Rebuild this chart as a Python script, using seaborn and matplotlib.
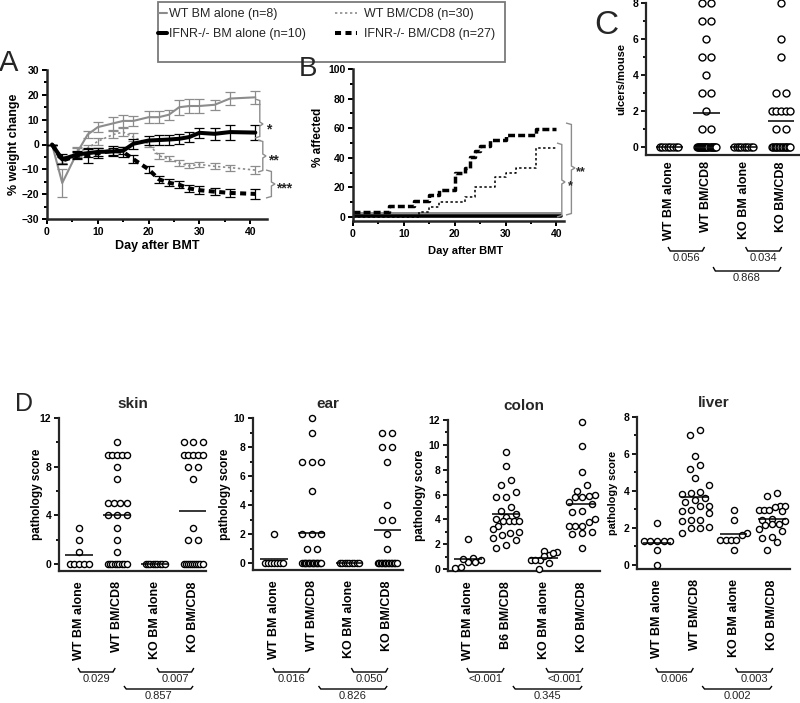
import warnings
warnings.filterwarnings("ignore")
import numpy as np
import pandas as pd
import matplotlib
matplotlib.use("Agg")
import matplotlib.pyplot as plt
import matplotlib.transforms as mtrans
from matplotlib.path import Path
from matplotlib.patches import PathPatch, Rectangle
from matplotlib.ticker import MultipleLocator
import seaborn as sns

# ---------------- data ----------------
# Panel A: % weight change (mean and SEM per day)
days = [1, 3, 6, 8, 10, 13, 15, 17, 20, 22, 24, 26, 28, 30, 33, 36, 41]
wt_bm_mean = [0, -15.5, -3, 4, 7, 8.5, 9.5, 9.5, 11, 11, 12, 15, 15.5, 15.5, 16, 18.5, 19]
wt_bm_sem = [0, 5.5, 2, 1.5, 2, 2.5, 2.5, 2, 2.5, 2.5, 2, 3, 3, 3, 2, 2.5, 2.5]
ko_bm_mean = [0, -6, -4, -3.5, -3, -2.8, -2.5, 0.3, 1.6, 1.8, 2, 2.3, 3, 4.7, 4.3, 5, 4.8]
ko_bm_sem = [0, 2, 1.5, 1.5, 1.5, 1.5, 1.5, 2, 2, 2, 2, 2, 2, 2, 2.5, 3, 3]
wt_cd8_mean = [0, -6, -3, -1.5, 1.3, 4, 5, 3, 0.3, -4.5, -5.8, -7.5, -8.6, -8, -8.8, -9.3, -10.3]
wt_cd8_sem = [0, 1.5, 1.5, 1.5, 1.5, 1.5, 1.5, 1.5, 1.5, 1.2, 1, 1.2, 1, 1, 1.2, 1.2, 1.5]
ko_cd8_mean = [0, -6.5, -4.5, -4.5, -3.5, -2.5, -3, -5.9, -10, -14, -15.4, -16.2, -17.7, -18.4, -19, -19.5, -19.9]
ko_cd8_sem = [0, 1.5, 1.5, 3, 2, 2, 2, 1.5, 1.5, 1.5, 1.5, 1.5, 1.5, 1.5, 1.5, 1.5, 2]
labels_A = ["WT BM alone (n=8)", "IFNR-/- BM alone (n=10)",
            "WT BM/CD8 (n=30)", "IFNR-/- BM/CD8 (n=27)"]

# Panel B: % affected (step curves)
b_wt_bm_day = [0, 41]
b_wt_bm_pct = [2.7, 2.7]
b_ko_bm_day = [0, 41]
b_ko_bm_pct = [0.8, 0.8]
b_wt_cd8_day = [0, 13, 15, 17, 22, 24, 28, 30, 32, 36, 40]
b_wt_cd8_pct = [0, 3.3, 6.7, 10, 13.3, 20, 26.7, 30, 33.3, 46.7, 46.7]
b_ko_cd8_day = [0, 7, 12, 15, 17, 20, 22, 23, 24, 25, 27, 30, 36, 40]
b_ko_cd8_pct = [3.7, 7.4, 11.1, 14.8, 18.5, 29.6, 33.3, 40.7, 44.4, 48.1, 51.9, 55.6, 59.3, 59.3]

# Panel C: ulcers/mouse
cats = ["WT BM alone", "WT BM/CD8", "KO BM alone", "KO BM/CD8"]
c_wt_bm = [0] * 8
c_wt_cd8 = [8, 8, 7, 7, 6, 5, 5, 4, 3, 3, 2, 1, 1] + [0] * 19
c_ko_bm = [0] * 9
c_ko_cd8 = [8, 6, 5, 3, 3, 2, 2, 2, 2, 2, 1, 1] + [0] * 14
c_p = ["0.056", "0.034", "0.868"]

# Panel D: pathology scores
skin_wt_bm = [3, 2, 1, 0, 0, 0, 0, 0]
skin_wt_cd8 = [10, 9, 9, 9, 9, 9, 8, 7, 5, 5, 5, 5, 4, 4, 4, 3, 2, 1] + [0] * 9
skin_ko_bm = [0] * 9
skin_ko_cd8 = [10, 10, 10, 9, 9, 9, 9, 9, 8, 8, 7, 3, 2, 2] + [0] * 10
skin_p = ["0.029", "0.007", "0.857"]

ear_wt_bm = [2, 0, 0, 0, 0, 0, 0, 0]
ear_wt_cd8 = [10, 9, 7, 7, 7, 5, 2, 2, 2, 1, 1] + [0] * 15
ear_ko_bm = [0] * 9
ear_ko_cd8 = [9, 9, 8, 8, 7, 4, 3, 3, 2, 1] + [0] * 14
ear_p = ["0.016", "0.050", "0.826"]

colon_cats = ["WT BM alone", "B6 BM/CD8", "KO BM alone", "KO BM/CD8"]
colon_wt_bm = [2.4, 0.9, 0.6, 0.7, 0.8, 0.6, 0.1, 0.2]
colon_wt_cd8 = [9.4, 8.3, 7.2, 6.8, 6.2, 5.8, 5.8, 5.0, 4.7, 4.4, 4.2, 4.0, 3.9, 3.9,
                3.9, 3.9, 3.5, 3.2, 3.0, 2.9, 2.7, 2.5, 2.3, 1.9, 1.7]
colon_ko_bm = [1.45, 1.35, 1.15, 1.25, 0.75, 0.7, 0.7, 0.5, 0.0, 1.05]
colon_ko_cd8 = [11.8, 9.9, 7.8, 6.8, 6.3, 6.0, 5.9, 5.8, 5.8, 5.4, 5.2, 4.6, 4.7, 4.0,
                3.8, 3.5, 3.5, 3.5, 3.0, 2.9, 2.8, 1.7]
colon_p = ["<0.001", "<0.001", "0.345"]

liver_wt_bm = [2.25, 1.3, 1.3, 1.3, 1.3, 1.3, 0.8, 0.0]
liver_wt_cd8 = [7.3, 7.0, 5.9, 5.4, 5.2, 4.7, 4.3, 3.95, 3.9, 3.85, 3.6, 3.5, 3.4, 3.2,
                3.2, 2.95, 2.9, 2.8, 2.45, 2.45, 2.4, 2.05, 2.0, 2.0, 1.75]
liver_ko_bm = [2.95, 2.45, 1.75, 1.35, 1.35, 1.35, 1.35, 0.8, 1.6]
liver_ko_cd8 = [3.9, 3.75, 3.2, 3.2, 3.15, 2.95, 2.95, 2.95, 2.9, 2.5, 2.45, 2.4, 2.2,
                2.2, 2.15, 1.95, 1.85, 1.5, 1.45, 1.25, 0.8]
liver_p = ["0.006", "0.003", "0.002"]

# ---------------- style ----------------
sns.set_theme(style="ticks")
plt.rcParams['font.family'] = ['Liberation Sans', 'DejaVu Sans']
plt.rcParams['font.weight'] = 'bold'
plt.rcParams['axes.labelweight'] = 'bold'

W, H = 800, 703
fig = plt.figure(figsize=(W / 100, H / 100), dpi=100)
T_px = mtrans.Affine2D().scale(1 / W, -1 / H).translate(0, 1) + fig.transFigure
GRAY = '#8c8c8c'


def rect(r):
    l, t, rr, b = r
    return [l / W, 1 - b / H, (rr - l) / W, (b - t) / H]


def style_axes(ax, lw=1.6, fs=7.5):
    sns.despine(ax=ax)
    for s in ['left', 'bottom']:
        ax.spines[s].set_linewidth(lw)
    ax.tick_params(which='major', direction='out', length=3.5, width=lw * 0.8,
                   labelsize=fs, pad=2, color='black', labelcolor='black')
    ax.tick_params(which='minor', direction='out', length=2, width=lw * 0.8, color='black')


def ylab(ax, text, xc, fs, r, yc=None):
    l, t, rr, b = r
    em = fs * 100 / 72
    ax.set_ylabel(text, fontsize=fs, fontweight='bold', color='black')
    ax.yaxis.set_label_coords((xc + 0.55 * em - l) / (rr - l),
                              0.5 if yc is None else (b - yc) / (b - t))


def xlab(ax, text, yc, fs, r, xc=None):
    l, t, rr, b = r
    em = fs * 100 / 72
    ax.set_xlabel(text, fontsize=fs, fontweight='bold', color='black')
    ax.xaxis.set_label_coords(0.5 if xc is None else (xc - l) / (rr - l),
                              (b - (yc - 0.58 * em)) / (b - t))


def vbrace(x0, w, y1, y2, ym, color=GRAY):
    verts = [(x0, y1), (x0 + w * 0.6, y1 + 1.5), (x0 + w * 0.6, ym - 2), (x0 + w, ym),
             (x0 + w * 0.6, ym + 2), (x0 + w * 0.6, y2 - 1.5), (x0, y2)]
    fig.add_artist(PathPatch(Path(verts), transform=T_px, fill=False, ec=color, lw=1.0))


def hbrace(ax, x1, x2, ytop, ybot, text, ytext):
    tr = mtrans.blended_transform_factory(ax.transData, T_px)
    dx = 0.06
    verts = [(x1, ytop), (x1 + dx, ybot), (x2 - dx, ybot), (x2, ytop)]
    fig.add_artist(PathPatch(Path(verts), transform=tr, fill=False, ec='black', lw=1.0))
    ax.text((x1 + x2) / 2, ytext, text, transform=tr, ha='center', va='center',
            fontsize=8, fontweight='normal', color='#222222', clip_on=False)


def prism_offsets(values, dy, step=0.26, maxw=0.5):
    """Prism-style scatter-dot layout: points in the same row are spread side by side,
    compressed (overlapping) when there are too many."""
    v = np.asarray(values, float)
    order = np.argsort(v, kind='stable')
    offs = np.zeros(len(v))
    i = 0
    while i < len(order):
        j = i
        while j + 1 < len(order) and v[order[j + 1]] - v[order[i]] < dy:
            j += 1
        k = j - i + 1
        s = step if k == 1 else min(step, maxw / (k - 1))
        offs[order[i:j + 1]] = (np.arange(k) - (k - 1) / 2) * s
        i = j + 1
    return offs


# ---------------- Panel A ----------------
rA = (47, 70, 267, 219)
axA = fig.add_axes(rect(rA))
seriesA = [
    (wt_bm_mean, wt_bm_sem, dict(color=GRAY, lw=1.5, linestyle='-'), 2),
    (ko_bm_mean, ko_bm_sem, dict(color='black', lw=2.9, linestyle='-'), 4),
    (wt_cd8_mean, wt_cd8_sem, dict(color=GRAY, lw=1.2, linestyle=(0, (1.4, 1.6))), 3),
    (ko_cd8_mean, ko_cd8_sem, dict(color='black', lw=2.9, linestyle=(0, (1.5, 1.1))), 5),
]
for (m, s, st, z), lab in zip(seriesA, labels_A):
    axA.errorbar(days, m, yerr=s, fmt='none', ecolor=st['color'], elinewidth=0.9,
                 capsize=3.5, capthick=0.9, zorder=z - 0.5)
    sns.lineplot(x=days, y=m, ax=axA, label=lab, zorder=z, **st)
handles, labels = axA.get_legend_handles_labels()
if axA.get_legend() is not None:
    axA.get_legend().remove()
axA.set_xlim(0, 43.3)
axA.set_ylim(-30, 30)
axA.xaxis.set_major_locator(MultipleLocator(10))
axA.xaxis.set_minor_locator(MultipleLocator(5))
axA.yaxis.set_major_locator(MultipleLocator(10))
axA.yaxis.set_minor_locator(MultipleLocator(5))
style_axes(axA, lw=1.8)
ylab(axA, "% weight change", 13, 9, rA)
xlab(axA, "Day after BMT", 247, 9, rA)
vbrace(255, 8, 99, 138, 124)
vbrace(258, 8, 140, 172, 156)
vbrace(266, 9, 170, 198, 184)
fig.text(266 / W, 1 - 129 / H, "*", fontsize=10, ha='left', va='center')
fig.text(268 / W, 1 - 160 / H, "**", fontsize=10, ha='left', va='center')
fig.text(276 / W, 1 - 188 / H, "***", fontsize=10, ha='left', va='center')

# ---------------- Panel B ----------------
rB = (353, 69, 564, 221)
axB = fig.add_axes(rect(rB))
sns.lineplot(x=b_wt_bm_day, y=b_wt_bm_pct, ax=axB, color=GRAY, lw=1.4, drawstyle='steps-post')
sns.lineplot(x=b_ko_bm_day, y=b_ko_bm_pct, ax=axB, color='black', lw=2.6, drawstyle='steps-post')
sns.lineplot(x=b_wt_cd8_day, y=b_wt_cd8_pct, ax=axB, color='black', lw=1.1,
             linestyle=(0, (1.6, 1.6)), drawstyle='steps-post')
sns.lineplot(x=b_ko_cd8_day, y=b_ko_cd8_pct, ax=axB, color='black', lw=2.5,
             linestyle=(0, (2.0, 0.9)), drawstyle='steps-post')
axB.set_xlim(0, 41.5)
axB.set_ylim(-2.7, 100)
axB.xaxis.set_major_locator(MultipleLocator(10))
axB.xaxis.set_minor_locator(MultipleLocator(5))
axB.yaxis.set_major_locator(MultipleLocator(20))
axB.yaxis.set_minor_locator(MultipleLocator(10))
style_axes(axB, lw=1.8)
ylab(axB, "% affected", 318, 8.5, rB, yc=137)
xlab(axB, "Day after BMT", 252, 8, rB, xc=466)
vbrace(557, 8, 143, 217, 182)
vbrace(566, 9, 123, 215, 168)
fig.text(568 / W, 1 - 186 / H, "*", fontsize=9, ha='left', va='center')
fig.text(576 / W, 1 - 172 / H, "**", fontsize=9, ha='left', va='center')


# ---------------- dot panels ----------------
def dot_panel(r, order, groups, ylim, xlim, major, minor, ylabel, ylab_x, ylab_fs,
              pvals, rows, dy, maxw=0.5, title=None, size=4.4):
    ax = fig.add_axes(rect(r))
    df = pd.DataFrame({
        'group': np.repeat(order, [len(g) for g in groups]),
        'score': np.concatenate([np.asarray(g, float) for g in groups]),
    })
    df['pos'] = np.concatenate([i + prism_offsets(g, dy, maxw=maxw)
                                for i, g in enumerate(groups)])
    sns.scatterplot(data=df, x='pos', y='score', ax=ax, s=size ** 2, color='white',
                    edgecolor='black', linewidth=1.0, clip_on=False, zorder=3,
                    legend=False)
    means = df.groupby('group', sort=False)['score'].mean().reindex(order).values
    ax.hlines(means, np.arange(4) - 0.36, np.arange(4) + 0.36, colors='black',
              lw=1.1, zorder=4)
    ax.set_ylim(*ylim)
    ax.set_xlim(*xlim)
    ax.yaxis.set_major_locator(MultipleLocator(major))
    ax.yaxis.set_minor_locator(MultipleLocator(minor))
    style_axes(ax, lw=1.6)
    ax.set_xticks(range(4))
    ax.set_xticklabels(order, rotation=90, fontsize=9, fontweight='bold')
    ax.tick_params(axis='x', length=0, pad=rows[6])
    ax.set_xlabel("")
    ylab(ax, ylabel, ylab_x, ylab_fs, r)
    if title:
        ax.set_title(title, fontsize=11, fontweight='bold', pad=7)
    hbrace(ax, -0.03, 0.95, rows[0], rows[1], pvals[0], rows[2])
    hbrace(ax, 2.05, 3.02, rows[0], rows[1], pvals[1], rows[2])
    hbrace(ax, 1.18, 3.0, rows[3], rows[4], pvals[2], rows[5])
    return ax


rowsC = (247, 251, 258, 267, 271, 278, 4.5)
rowsD = (668, 672, 679, 686, 689, 696, 7.5)

dot_panel((646, 3.3, 800, 155), cats, [c_wt_bm, c_wt_cd8, c_ko_bm, c_ko_cd8],
          (-0.47, 8), (-0.62, 3.51), 2, 1, "ulcers/mouse", 620, 8, c_p, rowsC, 0.5,
          size=5.0)
dot_panel((59, 418, 206, 571), cats, [skin_wt_bm, skin_wt_cd8, skin_ko_bm, skin_ko_cd8],
          (-0.57, 12), (-0.53, 3.34), 4, 2, "pathology score", 37, 8.5, skin_p, rowsD, 0.5,
          title="skin")
dot_panel((253, 418, 403, 570), cats, [ear_wt_bm, ear_wt_cd8, ear_ko_bm, ear_ko_cd8],
          (-0.48, 10), (-0.557, 3.42), 2, 1, "pathology score", 225, 8.5, ear_p, rowsD, 0.5,
          title="ear")
dot_panel((448, 420, 600, 571), colon_cats,
          [colon_wt_bm, colon_wt_cd8, colon_ko_bm, colon_ko_cd8],
          (-0.16, 12), (-0.526, 3.47), 2, 1, "pathology score", 420, 8.5, colon_p, rowsD,
          0.7, maxw=0.7, title="colon")
dot_panel((637, 417, 790, 569), cats, [liver_wt_bm, liver_wt_cd8, liver_ko_bm, liver_ko_cd8],
          (-0.22, 8), (-0.52, 3.47), 2, 1, "pathology score", 612, 7.8, liver_p, rowsD,
          0.45, maxw=0.7, title="liver")

# ---------------- legend ----------------
leg_kw = dict(loc='upper left', frameon=False, prop={'size': 9, 'weight': 'normal'},
              labelspacing=0.68, borderpad=0, borderaxespad=0)
fig.legend(handles[:2], labels[:2], bbox_to_anchor=(158 / W, 1 - 8 / H),
           handlelength=0.75, handletextpad=0.15, **leg_kw)
fig.legend(handles[2:], labels[2:], bbox_to_anchor=(335 / W, 1 - 8 / H),
           handlelength=1.75, handletextpad=0.55, **leg_kw)
fig.add_artist(Rectangle((158, 2), 347, 60, transform=T_px, fill=False,
                         ec='#7a7a7a', lw=1.3))

# ---------------- panel letters ----------------
for letter, x, y, fs in [("A", 9, 63, 21), ("B", 308, 69, 20), ("C", 606, 25, 24),
                         ("D", 24, 404, 18)]:
    fig.text(x / W, 1 - y / H, letter, fontsize=fs, fontweight='normal',
             ha='center', va='center')

fig.savefig("out.png", dpi=100)
